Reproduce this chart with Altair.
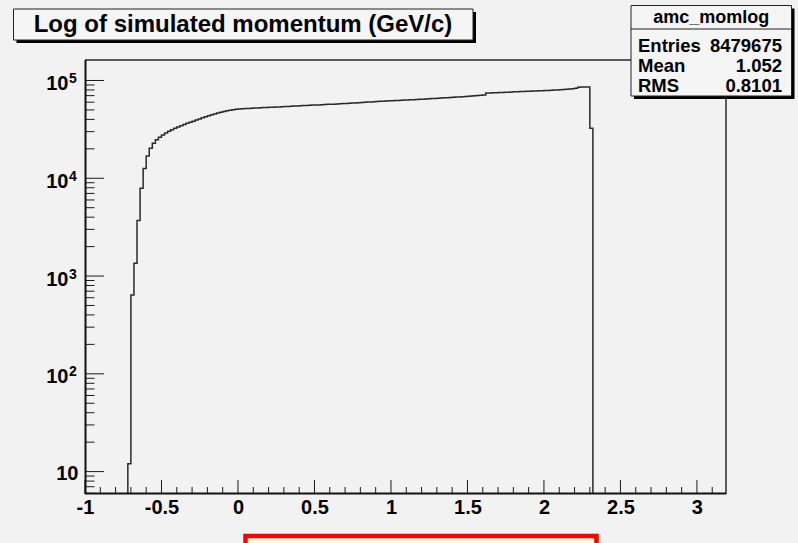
import altair as alt
import pandas as pd

# ---------------- data ----------------
bin_start = -0.72
bin_width = 0.02
counts = [
    12, 640, 1350, 3700, 7900, 12600, 16900, 20300, 22800, 24700,
    26300, 27700, 29100, 30300, 31300, 32400, 33400, 34500, 35400, 36500,
    37500, 38400, 39500, 40400, 41500, 42600, 43500, 44600, 45500, 46600,
    47400, 48300, 48900, 49700, 50200, 50800, 51100, 51300, 51700, 51800,
    52100, 52300, 52400, 52700, 52800, 53000, 53200, 53300, 53600, 53700,
    54000, 54200, 54300, 54600, 54800, 54900, 55200, 55400, 55500, 55800,
    56000, 56200, 56300, 56600, 56800, 57000, 57200, 57300, 57600, 57800,
    58000, 58200, 58400, 58700, 59000, 59200, 59500, 59800, 60100, 60400,
    60700, 61000, 61200, 61500, 61800, 62000, 62200, 62400, 62600, 62800,
    63000, 63200, 63400, 63700, 63900, 64200, 64400, 64700, 65000, 65300,
    65500, 65800, 66100, 66400, 66700, 67000, 67300, 67600, 67900, 68300,
    68600, 69000, 69400, 69800, 70200, 70600, 71000, 74300, 74500, 74800,
    75000, 75300, 75500, 75800, 76000, 76300, 76600, 76800, 77000, 77300,
    77500, 77800, 78000, 78200, 78500, 78700, 79000, 79200, 79500, 79700,
    80000, 80400, 81000, 81500, 82000, 82400, 83500, 85300, 85600, 85800,
    86000, 32400,
]

x_major = [-1, -0.5, 0, 0.5, 1, 1.5, 2, 2.5, 3]
x_minor_steps = list(range(-9, 32))          # tenths
y_major = [10, 100, 1000, 10000, 100000]
y_exponents = ["", "2", "3", "4", "5"]
y_minor_mult = [2, 3, 4, 5, 6, 7, 8, 9]

title_text = "Log of simulated momentum (GeV/c)"
stats_name = "amc_momlog"
stats_labels = ["Entries", "Mean", "RMS"]
stats_values = ["8479675", "1.052", "0.8101"]

X_MIN, X_MAX = -1.0, 3.19
Y_MIN, Y_MAX = 5.9, 1.62e5

# ---------------- layout ----------------
W, H = 641, 434
FONT = "Liberation Sans"
BG = "#f2f2f2"
BOXFILL = "#f5f5f5"
INK = "#1a1a1a"

edges = [bin_start + bin_width * i for i in range(len(counts) + 1)]
hx = [edges[0]] + edges[:-1] + [edges[-1], edges[-1]]
hy = [Y_MIN] + counts + [counts[-1], Y_MIN]
hist_df = pd.DataFrame({"x": hx, "y": hy, "i": list(range(len(hx)))})

xminor_vals = [s / 10 for s in x_minor_steps if s % 5 != 0]
yminor_vals = [m * 10 ** k for k in range(0, 5) for m in y_minor_mult
               if Y_MIN <= m * 10 ** k <= Y_MAX]

xs = alt.Scale(domain=[X_MIN, X_MAX], nice=False, zero=False)
ys = alt.Scale(type="log", domain=[Y_MIN, Y_MAX], nice=False)

x_axis = alt.Axis(values=x_major, labelExpr="datum.value + ''", labelFont=FONT,
                  labelFontSize=20, labelFontWeight="bold", labelColor="black",
                  labelPadding=3, labelFlush=False, labelOverlap=False,
                  ticks=False, domain=False, grid=False, title=None)

one = pd.DataFrame({"a": [0]})

hist = alt.Chart(hist_df).mark_line(
    interpolate="step-after", color="#2a2a2a", strokeWidth=1.5, clip=True
).encode(
    x=alt.X("x:Q", scale=xs, axis=x_axis),
    y=alt.Y("y:Q", scale=ys, axis=None),
    order=alt.Order("i:Q"),
)

xmaj = alt.Chart(pd.DataFrame({"v": x_major})).mark_rule(color=INK, strokeWidth=1).encode(
    x=alt.X("v:Q", scale=xs, axis=x_axis), y=alt.value(H), y2=alt.value(H - 14))
xmin_ = alt.Chart(pd.DataFrame({"v": xminor_vals})).mark_rule(color=INK, strokeWidth=1).encode(
    x=alt.X("v:Q", scale=xs, axis=x_axis), y=alt.value(H), y2=alt.value(H - 7))
ymaj = alt.Chart(pd.DataFrame({"v": y_major})).mark_rule(color=INK, strokeWidth=1).encode(
    y=alt.Y("v:Q", scale=ys, axis=None), x=alt.value(0), x2=alt.value(19))
ymin_ = alt.Chart(pd.DataFrame({"v": yminor_vals})).mark_rule(color=INK, strokeWidth=1).encode(
    y=alt.Y("v:Q", scale=ys, axis=None), x=alt.value(0), x2=alt.value(9.5))

ylab_df = pd.DataFrame({"v": y_major, "e": y_exponents})
ylab_ten = alt.Chart(ylab_df).transform_filter("datum.e != ''").mark_text(
    font=FONT, fontSize=20, fontWeight="bold", color="black", align="right",
    baseline="middle", dy=3.5
).encode(y=alt.Y("v:Q", scale=ys, axis=None), x=alt.value(-16.5), text=alt.value("10"))
ylab_exp = alt.Chart(ylab_df).transform_filter("datum.e != ''").mark_text(
    font=FONT, fontSize=14, fontWeight="bold", color="black", align="left",
    baseline="middle", dy=-1.5
).encode(y=alt.Y("v:Q", scale=ys, axis=None), x=alt.value(-16), text="e:N")
ylab_one = alt.Chart(ylab_df).transform_filter("datum.e == ''").mark_text(
    font=FONT, fontSize=20, fontWeight="bold", color="black", align="right",
    baseline="middle", dy=2
).encode(y=alt.Y("v:Q", scale=ys, axis=None), x=alt.value(-6.5), text=alt.value("10"))

# frame
frame_top = alt.Chart(one).mark_rule(color="#2a2a2a", strokeWidth=1.5).encode(
    x=alt.value(0), x2=alt.value(W), y=alt.value(0))
frame_right = alt.Chart(one).mark_rule(color="#2a2a2a", strokeWidth=1.5).encode(
    x=alt.value(W), y=alt.value(0), y2=alt.value(H))
frame_left = alt.Chart(one).mark_rule(color="#111111", strokeWidth=2).encode(
    x=alt.value(0.5), y=alt.value(0), y2=alt.value(H))
frame_bottom = alt.Chart(one).mark_rule(color="#111111", strokeWidth=2).encode(
    x=alt.value(0), x2=alt.value(W), y=alt.value(H - 0.5))


def box(x1, x2, y1, y2, sh=3):
    shadow = alt.Chart(one).mark_rect(color="#000000").encode(
        x=alt.value(x1 + sh), x2=alt.value(x2 + sh), y=alt.value(y1 + sh), y2=alt.value(y2 + sh))
    body = alt.Chart(one).mark_rect(fill=BOXFILL, stroke="#222222", strokeWidth=1).encode(
        x=alt.value(x1), x2=alt.value(x2), y=alt.value(y1), y2=alt.value(y2))
    return [shadow, body]


def txt(s, x, y, size, align="left"):
    return alt.Chart(one).mark_text(
        font=FONT, fontSize=size, fontWeight="bold", color="black",
        align=align, baseline="alphabetic"
    ).encode(x=alt.value(x), y=alt.value(y), text=alt.value(s))


# title box
title_layers = box(-71.5, 388, -51, -20) + [txt(title_text, 158, -28.5, 24, "center")]

# stats box
sx1, sx2, sy1, sy2 = 546, 706.5, -54.5, 36
stats_layers = box(sx1, sx2, sy1, sy2) + [
    alt.Chart(one).mark_rule(color="#222222", strokeWidth=1).encode(
        x=alt.value(sx1), x2=alt.value(sx2), y=alt.value(-31)),
    txt(stats_name, (sx1 + sx2) / 2, -37, 18, "center"),
]
row_y = [-8, 12, 31.5]
for lab, val, yy in zip(stats_labels, stats_values, row_y):
    stats_layers.append(txt(lab, 553, yy, 18.5, "left"))
    stats_layers.append(txt(val, 697, yy, 18.5, "right"))

# red box at the bottom
red = alt.Chart(one).mark_rect(fill="#ffffe0", stroke="#ff0000", strokeWidth=4.5).encode(
    x=alt.value(160.5), x2=alt.value(511.5), y=alt.value(476), y2=alt.value(540))

chart = alt.layer(
    frame_top, frame_right,
    hist, xmaj, xmin_, ymaj, ymin_,
    frame_left, frame_bottom,
    ylab_ten, ylab_exp, ylab_one,
    *title_layers, *stats_layers, red,
).properties(
    width=W, height=H,
    autosize=alt.AutoSizeParams(type="none"),
    padding={"left": 85, "top": 60, "right": 72, "bottom": 49},
    background=BG,
).configure_view(stroke=None, fill=BG)

chart.save("out.html", embed_options={"renderer": "svg", "actions": False})
